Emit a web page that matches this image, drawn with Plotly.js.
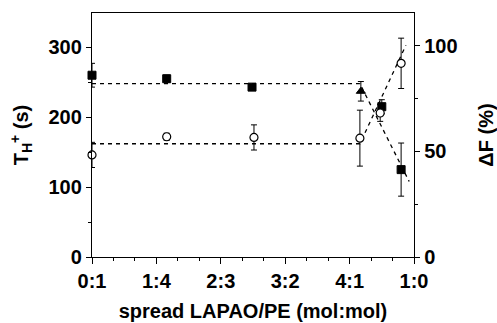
<!DOCTYPE html>
<html>
<head>
<meta charset="utf-8">
<script src="https://cdn.plot.ly/plotly-3.0.1.min.js"></script>
<style>html,body{margin:0;padding:0;background:#fff;}#chart{width:497px;height:323px;}</style>
</head>
<body>
<div id="chart"></div>
<script>
// Tick positions / labels (LAPAO mole fraction)
var tickVals = [0, 0.2, 0.4, 0.6, 0.8, 1.0];
var tickLabels = ["0:1", "1:4", "2:3", "3:2", "4:1", "1:0"];

// Filled markers series (T_H+ units, left axis)
var filledX = [0, 0.232, 0.497, 0.835, 0.90, 0.96];
var filledY = [260, 255, 243, 237, 215, 125];
var filledErr = [17, 5, 0, 14, 10, 38];
var filledSymbols = ["square", "square", "square", "triangle-up", "square", "square"];

// Open circles series
var openX = [0, 0.232, 0.503, 0.832, 0.895, 0.96];
var openY = [146, 172, 171, 170, 206, 277];
var openErr = [18, 5, 18, 40, 12, 36];

// Dashed guide lines
var upperLineX = [0, 0.832, 0.985];
var upperLineY = [248, 248, 108];
var lowerLineX = [0, 0.832, 0.975];
var lowerLineY = [162, 162, 303];

var fam = "Liberation Sans, Arial, sans-serif";
var tickFont = {family: fam, size: 20, color: "#000", weight: "bold"};
var titleFont = {family: fam, size: 20, color: "#000"};

var traces = [
  {x: upperLineX, y: upperLineY, mode: "lines", line: {color: "#000", width: 1.3, dash: "4px,4px"}, hoverinfo: "skip"},
  {x: lowerLineX, y: lowerLineY, mode: "lines", line: {color: "#000", width: 1.3, dash: "4px,4px"}, hoverinfo: "skip"},
  {x: filledX, y: filledY, mode: "markers", cliponaxis: false,
   marker: {symbol: filledSymbols, size: 8, color: "#000", line: {color: "#000", width: 1}},
   error_y: {type: "data", array: filledErr, visible: true, color: "#000", thickness: 1, width: 3}},
  {x: openX, y: openY, mode: "markers", cliponaxis: false,
   marker: {symbol: "circle", size: 8, color: "#fff", line: {color: "#000", width: 1.2}},
   error_y: {type: "data", array: openErr, visible: true, color: "#000", thickness: 1, width: 3}},
  {x: [0], y: [0], yaxis: "y2", mode: "markers", marker: {opacity: 0}, hoverinfo: "skip"}
];

var layout = {
  width: 497, height: 323,
  margin: {l: 92, r: 83, t: 13, b: 66},
  paper_bgcolor: "#fff", plot_bgcolor: "#fff",
  showlegend: false,
  font: {family: fam, size: 20, color: "#000"},
  xaxis: {
    range: [0, 1], tickvals: tickVals, ticktext: tickLabels,
    showgrid: false, zeroline: false, showline: true, linecolor: "#000", linewidth: 1.2, mirror: true,
    ticks: "outside", ticklen: 6, tickcolor: "#000", tickwidth: 1,
    minor: {dtick: 0.2/3, tick0: 0, ticks: "outside", ticklen: 3, tickcolor: "#000", tickwidth: 1},
    tickfont: tickFont,
    title: {text: "<b>spread LAPAO/PE (mol:mol)</b>", font: titleFont, standoff: 12}
  },
  yaxis: {
    range: [0, 349], tickvals: [0, 100, 200, 300],
    showgrid: false, zeroline: false, showline: true, linecolor: "#000", linewidth: 1.2,
    ticks: "outside", ticklen: 5, tickcolor: "#000", tickwidth: 1,
    minor: {tickvals: [50, 150, 250], ticks: "outside", ticklen: 3, tickcolor: "#000", tickwidth: 1},
    tickfont: tickFont,
    title: {text: "<b>T<sub>H</sub><sup>+</sup> (s)</b>", font: titleFont, standoff: 14}
  },
  yaxis2: {
    overlaying: "y", side: "right", range: [0, 115.6], tickvals: [0, 50, 100],
    showgrid: false, zeroline: false, showline: true, linecolor: "#000", linewidth: 1.2,
    ticks: "outside", ticklen: 5, tickcolor: "#000", tickwidth: 1,
    minor: {tickvals: [25, 75], ticks: "outside", ticklen: 3, tickcolor: "#000", tickwidth: 1},
    tickfont: tickFont,
    title: {text: "<b>ΔF (%)</b>", font: titleFont, standoff: 24}
  }
};

Plotly.newPlot("chart", traces, layout, {displayModeBar: false, staticPlot: true});
</script>
</body>
</html>
